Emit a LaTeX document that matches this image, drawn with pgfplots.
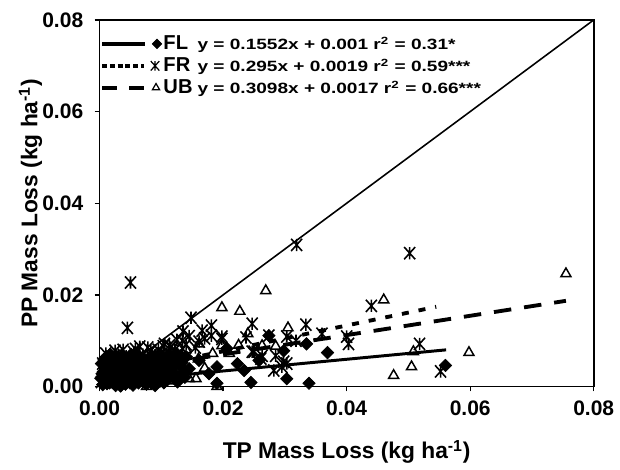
\documentclass[border=0pt]{standalone}
\usepackage{pgfplots}
\pgfplotsset{compat=1.18}
\usepackage{graphicx}
\usepackage{fontspec}
\setmainfont{Liberation Sans}

% Excel-like star: an X with a vertical bar
\pgfdeclareplotmark{xstar}{%
  \pgfpathmoveto{\pgfqpoint{-0.9\pgfplotmarksize}{-\pgfplotmarksize}}%
  \pgfpathlineto{\pgfqpoint{0.9\pgfplotmarksize}{\pgfplotmarksize}}%
  \pgfpathmoveto{\pgfqpoint{-0.9\pgfplotmarksize}{\pgfplotmarksize}}%
  \pgfpathlineto{\pgfqpoint{0.9\pgfplotmarksize}{-\pgfplotmarksize}}%
  \pgfpathmoveto{\pgfqpoint{0pt}{-\pgfplotmarksize}}%
  \pgfpathlineto{\pgfqpoint{0pt}{\pgfplotmarksize}}%
  \pgfusepathqstroke}

\newcommand{\nm}[1]{\makebox[19.5pt][l]{\fontsize{11.5}{12}\selectfont #1}}
\newcommand{\eq}[1]{\scalebox{1.28}[1]{\fontsize{8.5}{10}\selectfont #1}}

\begin{document}
\begin{tikzpicture}
\begin{axis}[
    scale only axis,
    width=9.92cm, height=7.36cm,
    xmin=0, xmax=0.08, ymin=0, ymax=0.08,
    xtick={0,0.02,0.04,0.06,0.08},
    ytick={0,0.02,0.04,0.06,0.08},
    scaled ticks=false,
    xtick pos=left, ytick pos=left,
    tick align=outside,
    major tick length=0.1cm,
    axis line style={line width=1pt},
    tick style={line width=0.8pt, black},
    clip=false,
    /pgf/number format/assume math mode=true,
    xticklabel style={/pgf/number format/fixed, /pgf/number format/fixed zerofill, /pgf/number format/precision=2, yshift=-2pt},
    yticklabel style={/pgf/number format/fixed, /pgf/number format/fixed zerofill, /pgf/number format/precision=2, xshift=-3pt},
    tick label style={font=\fontsize{12}{14}\selectfont\bfseries},
    label style={font=\fontsize{13}{15}\selectfont\bfseries},
    xlabel={TP Mass Loss (kg ha\textsuperscript{-1})},
    ylabel={PP Mass Loss (kg ha\textsuperscript{-1})},
    xlabel shift=7pt,
    ylabel shift=-6.8pt,
    legend style={at={(0,1)}, anchor=north west, yshift=-7.8pt, draw=none, fill=none,
        font=\bfseries, row sep=1.1pt, inner sep=0pt, nodes={inner sep=1pt},
        /tikz/every even column/.style={column sep=0pt}},
    legend cell align=left,
]

% FL (diamonds)
\addplot[only marks, mark=square*, mark size=2.5pt, mark options={rotate=45, fill=black, draw=black}, forget plot] table {
x y
0.0560 0.0046
0.0339 0.0007
0.0245 0.0009
0.0190 0.0007
0.0303 0.0017
0.0369 0.0074
0.0335 0.0093
0.0190 0.0043
0.0223 0.0050
0.0274 0.0111
0.0298 0.0078
0.0145 0.0039
0.0161 0.0057
0.0177 0.0028
0.0206 0.0083
0.0258 0.0057
0.0234 0.0035
0.0005 0.0004
0.0008 0.0012
0.0010 0.0022
0.0012 0.0006
0.0015 0.0030
0.0018 0.0015
0.0020 0.0041
0.0022 0.0008
0.0025 0.0025
0.0028 0.0050
0.0030 0.0012
0.0033 0.0035
0.0036 0.0020
0.0040 0.0058
0.0042 0.0005
0.0045 0.0030
0.0048 0.0045
0.0050 0.0015
0.0053 0.0062
0.0056 0.0025
0.0060 0.0040
0.0063 0.0008
0.0066 0.0052
0.0070 0.0030
0.0074 0.0018
0.0078 0.0045
0.0082 0.0060
0.0085 0.0010
0.0088 0.0035
0.0092 0.0050
0.0096 0.0022
0.0100 0.0065
0.0105 0.0040
0.0110 0.0015
0.0115 0.0055
0.0120 0.0030
0.0125 0.0072
0.0130 0.0045
0.0002 0.0018
0.0006 0.0032
0.0009 0.0045
0.0013 0.0052
0.0016 0.0008
0.0019 0.0026
0.0024 0.0058
0.0026 0.0002
0.0029 0.0038
0.0032 0.0060
0.0034 0.0001
0.0038 0.0012
0.0039 0.0042
0.0044 0.0050
0.0046 0.0020
0.0051 0.0070
0.0054 0.0003
0.0058 0.0048
0.0061 0.0065
0.0064 0.0028
0.0068 0.0042
0.0072 0.0060
0.0076 0.0005
0.0079 0.0028
0.0083 0.0040
0.0087 0.0055
0.0090 0.0002
0.0094 0.0038
0.0098 0.0012
0.0102 0.0052
0.0107 0.0025
0.0112 0.0070
0.0117 0.0040
0.0122 0.0020
0.0128 0.0058
0.0135 0.0030
0.0140 0.0065
0.0003 0.0050
0.0011 0.0065
0.0017 0.0070
0.0004 0.0028
0.0007 0.0058
0.0014 0.0040
0.0021 0.0052
0.0023 0.0018
0.0027 0.0065
0.0031 0.0028
0.0035 0.0055
0.0037 0.0068
0.0041 0.0018
0.0043 0.0038
0.0047 0.0062
0.0049 0.0008
0.0052 0.0030
0.0055 0.0055
0.0057 0.0012
0.0059 0.0070
0.0062 0.0020
0.0065 0.0045
0.0067 0.0062
0.0069 0.0022
0.0071 0.0050
0.0073 0.0008
0.0077 0.0035
0.0081 0.0020
0.0084 0.0068
0.0086 0.0045
0.0089 0.0025
0.0093 0.0060
0.0097 0.0045
0.0101 0.0032
0.0104 0.0008
0.0106 0.0060
0.0109 0.0048
0.0114 0.0028
0.0118 0.0065
0.0121 0.0048
0.0126 0.0010
0.0133 0.0052
0.0138 0.0020
};

% FR (stars)
\addplot[only marks, mark=xstar, mark size=3.5pt, mark options={line width=0.9pt, draw=black}, forget plot] table {
x y
0.0050 0.0227
0.0045 0.0128
0.0319 0.0309
0.0502 0.0291
0.0440 0.0176
0.0400 0.0109
0.0403 0.0093
0.0518 0.0093
0.0552 0.0033
0.0148 0.0150
0.0181 0.0133
0.0166 0.0122
0.0135 0.0120
0.0198 0.0104
0.0247 0.0137
0.0237 0.0107
0.0274 0.0111
0.0334 0.0135
0.0360 0.0115
0.0105 0.0093
0.0065 0.0087
0.0024 0.0067
0.0134 0.0100
0.0247 0.0076
0.0303 0.0050
0.0263 0.0067
0.0282 0.0035
0.0303 0.0109
0.0261 0.0061
0.0318 0.0100
0.0298 0.0054
0.0181 0.0111
0.0161 0.0098
0.0198 0.0109
0.0250 0.0076
0.0285 0.0067
0.0134 0.0083
0.0295 0.0043
0.0083 0.0078
0.0115 0.0085
0.0008 0.0030
0.0012 0.0055
0.0015 0.0018
0.0020 0.0062
0.0023 0.0040
0.0027 0.0010
0.0030 0.0070
0.0035 0.0048
0.0040 0.0028
0.0043 0.0066
0.0048 0.0052
0.0052 0.0038
0.0055 0.0075
0.0060 0.0060
0.0065 0.0035
0.0070 0.0070
0.0075 0.0050
0.0080 0.0030
0.0085 0.0072
0.0090 0.0058
0.0095 0.0080
0.0100 0.0045
0.0108 0.0068
0.0113 0.0090
0.0118 0.0060
0.0122 0.0080
0.0003 0.0010
0.0005 0.0050
0.0010 0.0072
0.0017 0.0045
0.0025 0.0078
0.0033 0.0025
0.0038 0.0080
0.0045 0.0015
0.0058 0.0082
0.0068 0.0052
0.0078 0.0085
0.0088 0.0042
0.0098 0.0068
0.0103 0.0088
0.0112 0.0040
0.0125 0.0102
0.0130 0.0065
0.0140 0.0092
0.0145 0.0110
0.0155 0.0085
0.0170 0.0105
};

% UB (open triangles)
\addplot[only marks, mark=triangle, mark size=3.3pt, mark options={line width=0.85pt, draw=black}, forget plot] table {
x y
0.0755 0.0246
0.0460 0.0189
0.0508 0.0076
0.0505 0.0043
0.0476 0.0024
0.0598 0.0074
0.0269 0.0209
0.0198 0.0172
0.0227 0.0164
0.0305 0.0128
0.0161 0.0093
0.0198 0.0089
0.0263 0.0089
0.0145 0.0017
0.0132 0.0020
0.0156 0.0017
0.0076 0.0000
0.0190 0.0000
0.0210 0.0072
0.0010 0.0008
0.0020 0.0030
0.0030 0.0005
0.0040 0.0045
0.0050 0.0020
0.0060 0.0055
0.0070 0.0010
0.0080 0.0040
0.0090 0.0065
0.0100 0.0025
0.0110 0.0050
0.0120 0.0012
0.0130 0.0060
0.0140 0.0080
0.0160 0.0060
0.0170 0.0040
0.0183 0.0072
0.0225 0.0090
0.0240 0.0115
0.0285 0.0088
0.0015 0.0060
0.0035 0.0068
0.0085 0.0015
};

% fitted lines as drawn
\addplot[black, line width=1.7pt, forget plot] coordinates {(0.0005,0.0009) (0.0561,0.0080)};
\addplot[black, line width=2.2pt, dash pattern=on 4pt off 5.7pt, forget plot] coordinates {(0.0005,0.0022) (0.0545,0.0174)};
\addplot[black, line width=2.2pt, dash pattern=on 10pt off 7.4pt, forget plot] coordinates {(0.0005,0.0029) (0.0755,0.0187)};
% 1:1 line
\addplot[black, line width=0.9pt, forget plot] coordinates {(0,0) (0.08,0.08)};

\addlegendimage{legend image code/.code={
    \draw[black, line width=2pt] (0cm,0cm) -- (0.86cm,0cm);
    \draw[black, fill=black, mark size=1.9pt] plot[only marks, mark=square*, mark options={rotate=45}] coordinates {(1.1cm,0cm)};}}
\addlegendentry{\nm{FL}\eq{y = 0.1552x + 0.001 r\textsuperscript{2} = 0.31*}}
\addlegendimage{legend image code/.code={
    \draw[black, line width=2.6pt, dash pattern=on 2.8pt off 1.6pt] (0cm,0cm) -- (0.84cm,0cm);
    \draw[black, line width=0.7pt, mark size=2.7pt] plot[only marks, mark=xstar] coordinates {(1.06cm,0cm)};}}
\addlegendentry{\nm{FR}\eq{y = 0.295x + 0.0019 r\textsuperscript{2} = 0.59***}}
\addlegendimage{legend image code/.code={
    \draw[black, line width=2.4pt, dash pattern=on 8.5pt off 6.8pt] (0cm,0cm) -- (0.84cm,0cm);
    \draw[black, line width=0.7pt, mark size=2.4pt] plot[only marks, mark=triangle] coordinates {(1.08cm,0cm)};}}
\addlegendentry{\nm{UB}\eq{y = 0.3098x + 0.0017 r\textsuperscript{2} = 0.66***}}
\end{axis}
% page margins as in the reference
\path ([yshift=0.4cm]current axis.north);
\path ([xshift=-2cm]current axis.west);
\path ([xshift=0.48cm]current axis.east);
\path ([yshift=-1.64cm]current axis.south);
\end{tikzpicture}
\end{document}
